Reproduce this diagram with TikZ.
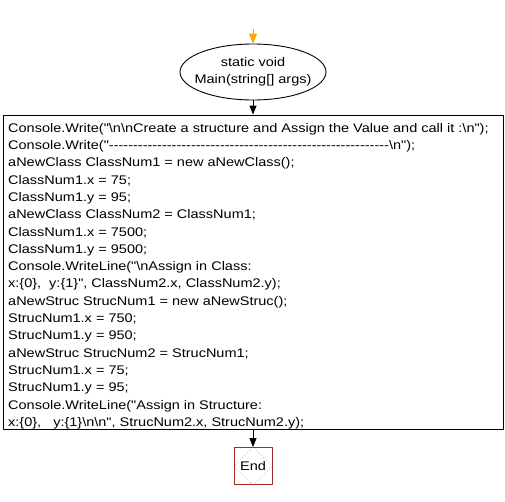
\documentclass[tikz,border=0pt]{standalone}
\usepackage{fontspec}
\setmainfont{Liberation Sans}[Ligatures=TeXOff, FakeStretch=1.16]
\usetikzlibrary{shapes.geometric,arrows.meta}
\newcommand{\escn}{\textbackslash n}
\definecolor{startorange}{RGB}{255,165,0}
\definecolor{endred}{RGB}{165,42,42}
\tikzset{
  flow/.style={-{Triangle[length=9pt,width=7pt]}, line width=1pt},
  startflow/.style={flow, draw=startorange, -{Triangle[length=10pt,width=8pt,fill=startorange]}},
  procbox/.style={draw, line width=0.9pt, inner sep=0pt},
  endbox/.style={draw=endred, line width=0.9pt, minimum width=38pt, minimum height=37pt, inner sep=0pt}
}
\begin{document}
\begin{tikzpicture}[x=1pt, y=-1pt, line join=round, font=\fontsize{12.5}{17.3}\selectfont]
	\useasboundingbox (0,0) rectangle (505,501);
	% Start
	\coordinate (start) at (253,29);
	\node[ellipse, draw, line width=0.9pt, minimum width=146pt, minimum height=56pt, align=center, inner xsep=-7pt, inner ysep=0pt] (main) at (253,72) {static void\\Main(string[] args)};
	\draw[startflow] (start) -- (main.north);
	
	% Code block
	\node[procbox, minimum width=500pt, minimum height=314pt] (code) at (253,272) {};
	\node[anchor=north west, align=left, inner sep=0pt] (lines) at (8,123) {%
		Console.Write("\escn\escn Create a structure and Assign the Value and call it :\escn");\\
		Console.Write("----------------------------------------------------------\escn");\\
		aNewClass ClassNum1 = new aNewClass();\\
		ClassNum1.x = 75;\\
		ClassNum1.y = 95;\\
		aNewClass ClassNum2 = ClassNum1;\\
		ClassNum1.x = 7500;\\
		ClassNum1.y = 9500;\\
		Console.WriteLine("\escn Assign in Class:\\
		x:\{0\},\hspace{8pt}y:\{1\}", ClassNum2.x, ClassNum2.y);\\
		aNewStruc StrucNum1 = new aNewStruc();\\
		StrucNum1.x = 750;\\
		StrucNum1.y = 950;\\
		aNewStruc StrucNum2 = StrucNum1;\\
		StrucNum1.x = 75;\\
		StrucNum1.y = 95;\\
		Console.WriteLine("Assign in Structure:\\
		x:\{0\},\hspace{12pt}y:\{1\}\escn\escn", StrucNum2.x, StrucNum2.y);};
	\draw[flow] (main.south) -- (code.north);
	
	% End
	\node[endbox] (end) at (253,466) {End};
	\draw[endred, dotted] (end.north) -- (end.east) -- (end.south) -- (end.west) -- cycle;
	\draw[flow] (code.south) -- (end.north);
\end{tikzpicture}
\end{document}
